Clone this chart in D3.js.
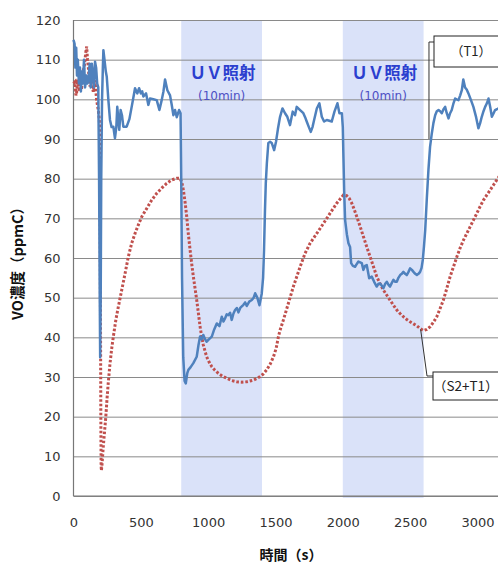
<!DOCTYPE html>
<html><head><meta charset="utf-8">
<script src="https://cdn.jsdelivr.net/npm/d3@7"></script>
<style>
html,body{margin:0;padding:0;background:#fff;overflow:hidden}
svg{display:block}
</style></head><body>
<svg id="c" width="498" height="563"></svg>
<script>
// ---- data ----
const yTicks = [0,10,20,30,40,50,60,70,80,90,100,110,120];
const xTicks = [0,500,1000,1500,2000,2500,3000];
const uvBands = [[800,1400],[2000,2600]];
const uvLabel = "ＵＶ照射";
const uvSub = "(10min)";
const seriesNames = ["（T1）","（S2+T1）"];
const xTitle = "時間（s）";
const yTitle = "VO濃度（ppmC）";

const t1T = [0,8,14,20,26,32,40,48,55,62,70,78,86,95,104,112,120,128,136,145,152,160,168,176,184,190,195,198,202,206,212,218,222,230,240,247,259,271,283,296,308,318,325,333,340,350,360,370,395,415,432,445,457,474,487,500,510,519,539,556,568,593,618,638,655,668,680,697,717,730,742,754,767,784,795,800,806,815,825,834,845,853,870,890,915,928,940,952,964,977,989,1005,1027,1045,1064,1084,1101,1114,1126,1138,1150,1163,1175,1188,1200,1213,1225,1240,1262,1275,1287,1305,1324,1338,1349,1365,1381,1398,1408,1415,1422,1428,1436,1447,1460,1472,1490,1504,1518,1534,1552,1571,1588,1608,1628,1645,1658,1683,1707,1720,1732,1748,1762,1775,1787,1807,1826,1844,1861,1881,1900,1918,1938,1960,1975,1993,2000,2005,2010,2017,2030,2042,2054,2062,2075,2091,2104,2116,2141,2153,2165,2178,2196,2215,2233,2252,2265,2277,2290,2302,2315,2327,2340,2351,2365,2376,2390,2401,2413,2426,2438,2450,2463,2475,2488,2500,2513,2525,2538,2550,2562,2574,2585,2594,2603,2612,2624,2636,2648,2661,2673,2686,2698,2711,2723,2735,2748,2760,2772,2785,2797,2809,2822,2834,2846,2859,2872,2884,2895,2908,2920,2933,2950,2970,2990,3007,3020,3032,3045,3057,3070,3082,3095,3107,3120,3131,3144,3156,3170];
const t1V = [115,114,108,113,106,110,104,108,102,107,104,110,103,106,104,105,109,103,109,106,103,109.5,108,104,103,80,50,35,50,80,100,108,112.4,110,107,105.7,99.8,94.8,93,93.1,90.2,93,98.1,95,92.3,97.3,96,93.1,93.1,95,98.1,100.5,102.8,101.5,102.8,101.5,102,100.7,101.5,98.6,100.2,100,99.8,97.3,99.8,102,105,102.3,101,98.5,96,97.3,95.5,97.3,96.5,80,55,35,29,28.4,31,31.8,32.5,33.5,35.1,38,40.2,39.5,40.6,39.5,38.9,39.5,40.2,42,43.5,42.8,45.2,44,44.8,45.8,45.6,46.2,44.4,46,46.9,47.4,46.3,47.5,48.2,48.8,47.9,49,49.4,50,51.1,50,48.1,51,55,62,72,78.8,83.9,89,89.3,89,87.2,89.3,92.5,95.6,97.7,96.5,95.6,93.5,96.9,96,98.1,97.3,96.5,95.5,94.4,93,91.8,93,94.8,97.7,99,95.6,94.4,94.8,94.6,94.4,96.9,99,96.5,96.5,93,85,77.1,69.6,66,63.7,62.8,58.7,58,57.8,58.5,59.1,58.7,57,58,58.2,54.9,55.3,54,52.8,53.5,53.6,53,52.4,53.5,54,53.2,52.8,53.8,54.5,54,54,55,55.7,56,56.5,56,55.7,56.5,57.4,57,56.5,56,55.7,56,56.5,57.5,59.5,63,67,75,82.2,88,91.4,94,96,97,97.3,97,96.5,97.5,98.1,96.5,95.2,96.5,97.3,99,100.2,100,99.8,101,102.3,105,103,102.5,101.5,100,98.1,95.5,92.7,94,95.6,97,98.1,99,100.2,98,95.6,96.5,97.3,97.5,97.7,98];

const s2T = [0,11,18,24,30,36,42,48,55,61,67,73,79,85,92,98,104,110,116,123,129,135,141,147,153,160,166,172,178,184,190,195,197,199,201,203,205,207,212,220,230,240,250,258,270,283,296,315,333,358,383,407,432,457,481,507,544,581,618,655,692,730,767,791,805,816,829,841,853,866,878,890,903,915,928,940,952,964,977,989,1008,1027,1050,1076,1107,1138,1175,1212,1250,1287,1336,1360,1386,1410,1435,1460,1485,1505,1522,1534,1559,1596,1633,1683,1720,1757,1807,1856,1906,1955,2005,2029,2048,2067,2085,2104,2128,2153,2178,2203,2228,2252,2277,2302,2327,2351,2376,2401,2425,2450,2475,2500,2525,2550,2575,2599,2624,2649,2673,2698,2722,2747,2772,2797,2822,2847,2871,2896,2921,2946,2971,2996,3020,3045,3070,3094,3119,3144,3170];
const s2V = [104,104.4,101,101.9,105,104,102,106.1,103,103,105,107.4,108,109.9,112,113.3,110,108.2,105,103.2,106,105.4,103,101.9,104,104.8,102,99.8,98.5,97.3,95.5,93,80,60,40,20,8,6.4,8,12,16,20,25,28.5,33,37,40.2,44.5,47.7,51.9,56.1,60.3,63.7,66.2,68.3,70.4,72.5,74.6,76.3,77.6,78.8,79.7,80.1,80.1,79,77.1,74,70.4,66,62,58.5,55.3,52.3,49.4,46,42.7,40.2,38.1,36.5,35.1,33.7,32.6,31.7,30.9,30.2,29.7,29.1,28.8,28.7,28.8,29.2,29.6,30.1,30.8,31.8,33.2,35.1,37.2,40.2,41.8,44.4,48.6,52.8,57.8,61.2,63.7,66.2,68.7,71.3,73.8,75.9,75.7,75,73.8,72.2,70.4,68,65.4,62.8,60.3,57.8,55.3,53.5,51.9,50.6,49.4,48.1,46.9,46,45.2,44.5,43.9,43.4,42.9,42.2,41.7,42,42.7,43.8,45.2,47.2,49.4,52.3,55.3,57.8,60.3,62.5,64.5,66.2,67.9,69.6,71.3,73,74.6,75.9,77.1,78.4,79.7,81];

// ---- layout ----
const W = 498, H = 563;
const mLeft = 73.5, mTop = 20, mBottom = 496;
const xMax = 3200;
const x = d3.scaleLinear().domain([0, xMax]).range([mLeft, mLeft + xMax * 0.13465]);
const y = d3.scaleLinear().domain([0, 120]).range([mBottom, mTop]);
const svg = d3.select("#c");
const font = "'DejaVu Sans', Verdana, sans-serif";
const cjk = "'Noto Sans CJK JP', 'DejaVu Sans', sans-serif";

// UV bands
svg.append("g").selectAll("rect").data(uvBands).join("rect")
  .attr("x", d => x(d[0])).attr("width", d => x(d[1]) - x(d[0]))
  .attr("y", y(120)).attr("height", (d, i) => y(0) - y(120) + (i === 1 ? 2 : 0))
  .attr("fill", "#dae2f9");

// Y axis with gridlines
const gy = svg.append("g").attr("transform", `translate(${mLeft},0)`)
  .call(d3.axisLeft(y).tickValues(yTicks).tickSizeInner(-(W - mLeft + 10)).tickSizeOuter(0).tickPadding(13));
gy.select(".domain").remove();
gy.selectAll(".tick line").attr("stroke", "#8a8a8a").attr("stroke-width", 1);
gy.selectAll(".tick text").attr("font-family", font).attr("font-size", 13).attr("fill", "#333");

// X axis
const gx = svg.append("g").attr("transform", `translate(0,${mBottom})`)
  .call(d3.axisBottom(x).tickValues(xTicks).tickSize(0).tickPadding(22).tickFormat(d3.format("d")));
gx.select(".domain").remove();
gx.selectAll(".tick text").attr("font-family", font).attr("font-size", 13).attr("fill", "#333");

// axis frame lines
svg.append("line").attr("x1", mLeft).attr("x2", mLeft).attr("y1", y(120)).attr("y2", y(0))
  .attr("stroke", "#777").attr("stroke-width", 1.2);
svg.append("line").attr("x1", mLeft).attr("x2", W).attr("y1", y(0)).attr("y2", y(0))
  .attr("stroke", "#777").attr("stroke-width", 1.2);

// UV labels
uvBands.forEach(b => {
  const cx = x((b[0] + b[1]) / 2);
  svg.append("text").attr("x", cx + 1).attr("y", 79).attr("text-anchor", "middle")
    .attr("font-family", cjk).attr("font-weight", "bold").attr("font-size", 16.5)
    .attr("fill", "#2b3fcf").text(uvLabel);
  svg.append("text").attr("x", cx).attr("y", 100).attr("text-anchor", "middle")
    .attr("font-family", font).attr("font-size", 12)
    .attr("fill", "#4d4fc4").text(uvSub);
});

// lines
const lineGen = d3.line().x(d => x(d[0])).y(d => y(d[1]));
const t1 = t1T.map((t, i) => [t, t1V[i]]);
const s2 = s2T.map((t, i) => [t, s2V[i]]);
svg.append("path").datum(s2).attr("d", lineGen).attr("fill", "none")
  .attr("stroke", "#c0504d").attr("stroke-width", 3).attr("stroke-dasharray", "2.6,1.9");
svg.append("path").datum(t1).attr("d", lineGen).attr("fill", "none")
  .attr("stroke", "#4f81bd").attr("stroke-width", 2.5).attr("stroke-linejoin", "round");

// callouts
const lead = "#333";
// T1
svg.append("polyline").attr("points", `${x(2640)},${y(90)} ${x(2640)},42 434,42`)
  .attr("fill", "none").attr("stroke", lead).attr("stroke-width", 1);
svg.append("rect").attr("x", 434).attr("y", 36).attr("width", 80).attr("height", 31)
  .attr("fill", "#fff").attr("stroke", "#222").attr("stroke-width", 1);
svg.append("text").attr("x", 471).attr("y", 56).attr("text-anchor", "middle")
  .attr("font-family", cjk).attr("font-size", 13).attr("fill", "#222").text(seriesNames[0]);
// S2+T1
svg.append("polyline").attr("points", `${x(2578)},${y(42)} 427,376 433,376`)
  .attr("fill", "none").attr("stroke", lead).attr("stroke-width", 1);
svg.append("rect").attr("x", 433).attr("y", 372).attr("width", 80).attr("height", 28)
  .attr("fill", "#fff").attr("stroke", "#222").attr("stroke-width", 1);
svg.append("text").attr("x", 433).attr("y", 391).attr("text-anchor", "start")
  .attr("font-family", cjk).attr("font-size", 13.5).attr("fill", "#222").text(seriesNames[1]);

// titles
svg.append("text").attr("x", 291).attr("y", 560).attr("text-anchor", "middle")
  .attr("font-family", cjk).attr("font-weight", "bold").attr("font-size", 14)
  .attr("fill", "#111").text(xTitle);
svg.append("text").attr("transform", "translate(23,260) rotate(-90)").attr("text-anchor", "middle")
  .attr("font-family", cjk).attr("font-weight", "bold").attr("font-size", 14.5)
  .attr("fill", "#111").text(yTitle);
</script>
</body></html>
